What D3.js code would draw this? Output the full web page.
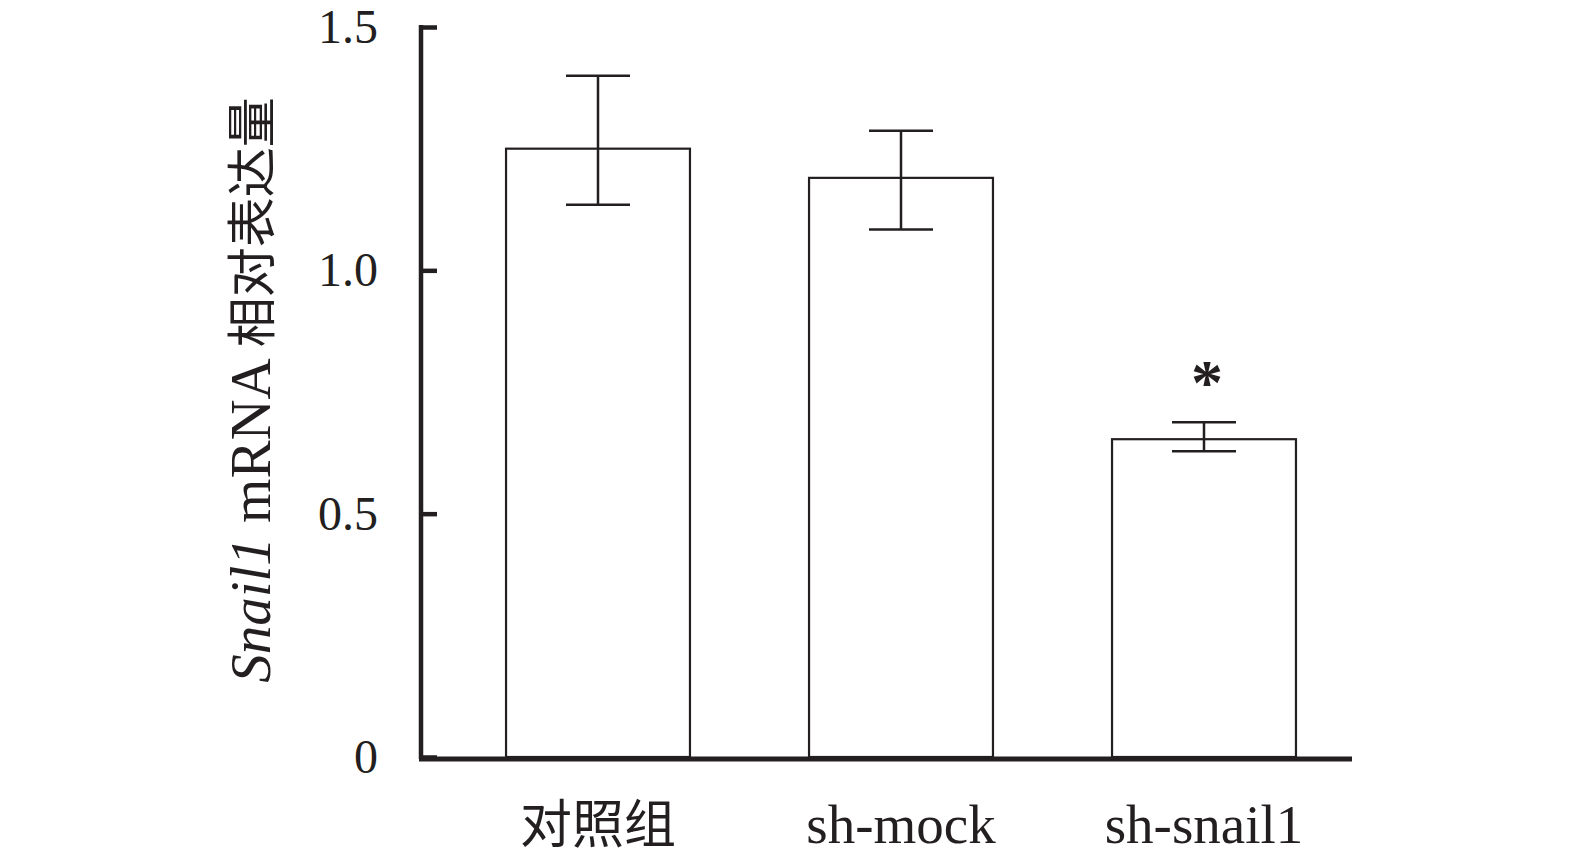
<!DOCTYPE html>
<html><head><meta charset="utf-8">
<script src="https://cdn.jsdelivr.net/npm/d3@7"></script>
<style>body{margin:0;background:#fff}</style>
</head><body>
<svg id="c" width="1575" height="858"></svg>
<script>
const categories = ["对照组", "sh-mock", "sh-snail1"];
const means = [1.25, 1.19, 0.653];
const errLow = [1.135, 1.084, 0.628];
const errHigh = [1.40, 1.287, 0.688];
const significance = ["", "", "*"];
const yTicks = [0, 0.5, 1.0, 1.5];
const yTickLabels = ["0", "0.5", "1.0", "1.5"];

const svg = d3.select("#c");
const serif = "'Liberation Serif','Times New Roman','Noto Sans CJK SC',serif";
const ink = "#231f20";

const y = d3.scaleLinear().domain([0, 1.5]).range([757, 27]);
const x = d3.scaleBand().domain(categories).range([446.5, 1355.5])
  .paddingInner(0.393).paddingOuter(0.1965);

// bars
svg.selectAll("rect.bar").data(categories).enter().append("rect")
  .attr("x", d => x(d)).attr("width", x.bandwidth())
  .attr("y", (d, i) => y(means[i])).attr("height", (d, i) => y(0) - y(means[i]))
  .attr("fill", "#fff").attr("stroke", ink).attr("stroke-width", 2.2);

// error bars
const capW = 64;
const g = svg.selectAll("g.err").data(categories).enter().append("g")
  .attr("stroke", ink).attr("stroke-width", 2.5);
g.append("line").attr("x1", d => x(d) + x.bandwidth()/2).attr("x2", d => x(d) + x.bandwidth()/2)
  .attr("y1", (d, i) => y(errLow[i])).attr("y2", (d, i) => y(errHigh[i]));
g.append("line").attr("x1", d => x(d) + x.bandwidth()/2 - capW/2).attr("x2", d => x(d) + x.bandwidth()/2 + capW/2)
  .attr("y1", (d, i) => y(errLow[i])).attr("y2", (d, i) => y(errLow[i]));
g.append("line").attr("x1", d => x(d) + x.bandwidth()/2 - capW/2).attr("x2", d => x(d) + x.bandwidth()/2 + capW/2)
  .attr("y1", (d, i) => y(errHigh[i])).attr("y2", (d, i) => y(errHigh[i]));

// significance
svg.selectAll("text.sig").data(categories).enter().append("text")
  .attr("x", d => x(d) + x.bandwidth()/2 + 3).attr("y", (d, i) => y(errHigh[i]) - 18)
  .attr("text-anchor", "middle").attr("font-family", serif).attr("font-size", 64)
  .attr("font-weight", "bold")
  .attr("fill", ink).text((d, i) => significance[i]);

// y axis
const yAxis = d3.axisRight(y).tickValues(yTicks).tickSize(16).tickFormat("");
const ya = svg.append("g").attr("transform", "translate(421,0)").call(yAxis);
ya.select(".domain").attr("d", `M0,${y(1.5)-2}V${y(0)+2}`).attr("stroke", ink).attr("stroke-width", 4.5);
ya.selectAll(".tick line").attr("stroke", ink).attr("stroke-width", 4.5);

svg.selectAll("text.yt").data(yTicks).enter().append("text")
  .attr("x", 378).attr("y", d => y(d)).attr("dy", "0.33em")
  .attr("text-anchor", "end").attr("font-family", serif).attr("font-size", 48)
  .attr("fill", ink).text((d, i) => yTickLabels[i]);

// x axis
const xAxis = d3.axisBottom(x).tickSize(0).tickFormat("");
const xa = svg.append("g").attr("transform", `translate(0,${y(0)+2})`).call(xAxis);
xa.select(".domain").attr("d", "M419,0H1352").attr("stroke", ink).attr("stroke-width", 5);

svg.selectAll("text.xt").data(categories).enter().append("text")
  .attr("x", d => x(d) + x.bandwidth()/2).attr("y", 843)
  .attr("text-anchor", "middle").attr("font-family", serif)
  .attr("font-size", (d, i) => i === 0 ? 52 : 55)
  .attr("fill", ink).text(d => d);

// y title
const t = svg.append("text").attr("transform", "translate(270,390) rotate(-90)")
  .attr("text-anchor", "middle").attr("font-family", serif).attr("font-size", 57).attr("fill", ink);
t.append("tspan").attr("font-style", "italic").text("Snail1");
t.append("tspan").text(" mRNA ");
t.append("tspan").attr("font-size", 50).text("相对表达量");
</script>
</body></html>
